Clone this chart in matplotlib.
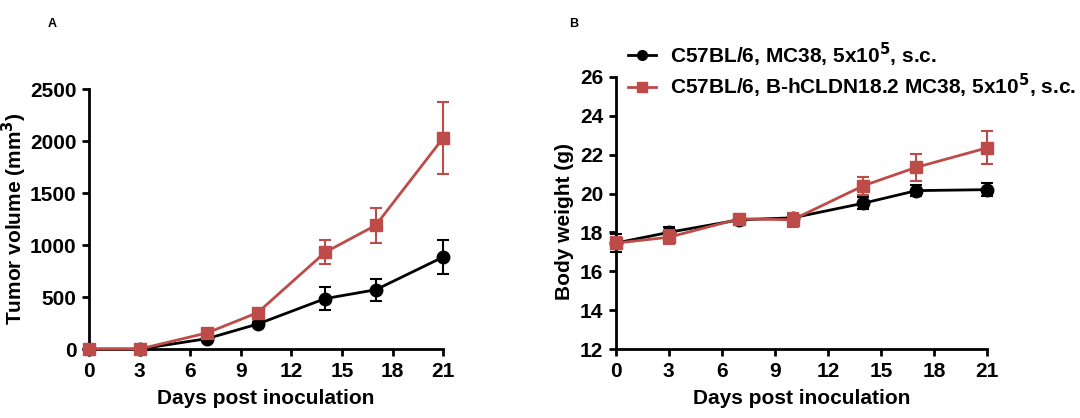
import matplotlib
matplotlib.use("Agg")
import matplotlib.pyplot as plt
from matplotlib.lines import Line2D

plt.rcParams['font.family'] = ['Liberation Sans', 'DejaVu Sans']
plt.rcParams['font.weight'] = 'bold'
plt.rcParams['mathtext.default'] = 'bf'

days = [0, 3, 7, 10, 14, 17, 21]

vol_mc38 = [0, 0, 100, 240, 485, 570, 885]
vol_mc38_err = [0, 0, 15, 20, 110, 105, 165]
vol_cldn = [0, 0, 155, 350, 930, 1190, 2030]
vol_cldn_err = [0, 0, 20, 25, 115, 170, 350]

bw_mc38 = [17.45, 18.0, 18.65, 18.75, 19.5, 20.15, 20.2]
bw_mc38_err = [0.45, 0.3, 0.25, 0.2, 0.3, 0.3, 0.35]
bw_cldn = [17.45, 17.75, 18.7, 18.65, 20.4, 21.35, 22.35]
bw_cldn_err = [0.3, 0.35, 0.25, 0.35, 0.45, 0.7, 0.85]

labels = ['C57BL/6, MC38, 5x10$^{5}$, s.c.',
          'C57BL/6, B-hCLDN18.2 MC38, 5x10$^{5}$, s.c.']
black = '#000000'
red = '#bd4b48'
FS = 15

fig = plt.figure(figsize=(10.8, 4.18), dpi=100)
axA = fig.add_axes([0.0824, 0.165, 0.328, 0.622])
axB = fig.add_axes([0.570, 0.165, 0.344, 0.651])

def style(ax):
    for s in ['top', 'right']:
        ax.spines[s].set_visible(False)
    for s in ['left', 'bottom']:
        ax.spines[s].set_linewidth(2)
    ax.tick_params(width=2, length=5, labelsize=FS, direction='out', pad=4)
    for lab in ax.get_xticklabels() + ax.get_yticklabels():
        lab.set_fontweight('bold')
    ax.set_xlim(0, 21)
    ax.set_xticks([0, 3, 6, 9, 12, 15, 18, 21])
    ax.set_xlabel('Days post inoculation', fontsize=FS, fontweight='bold', labelpad=6)

for ax, y1, e1, y2, e2 in [(axA, vol_mc38, vol_mc38_err, vol_cldn, vol_cldn_err),
                            (axB, bw_mc38, bw_mc38_err, bw_cldn, bw_cldn_err)]:
    ax.errorbar(days, y1, yerr=e1, color=black, marker='o', markersize=9, lw=2,
                capsize=4, elinewidth=1.5, capthick=1.5, clip_on=False, zorder=3)
    ax.errorbar(days, y2, yerr=e2, color=red, marker='s', markersize=9, lw=2,
                capsize=4, elinewidth=1.5, capthick=1.5, clip_on=False, zorder=4)

axA.set_ylim(0, 2500)
axA.set_yticks([0, 500, 1000, 1500, 2000, 2500])
axA.set_ylabel('Tumor volume (mm$^{3}$)', fontsize=FS, fontweight='bold')
axA.yaxis.set_label_coords(-0.17, 0.5)
style(axA)

axB.set_ylim(12, 26)
axB.set_yticks([12, 14, 16, 18, 20, 22, 24, 26])
axB.set_ylabel('Body weight (g)', fontsize=FS, fontweight='bold')
axB.yaxis.set_label_coords(-0.113, 0.47)
style(axB)

handles = [Line2D([], [], color=black, marker='o', markersize=7, lw=2),
           Line2D([], [], color=red, marker='s', markersize=7, lw=2)]
axB.legend(handles, labels, loc='lower left', bbox_to_anchor=(0.01, 0.885), frameon=False,
           prop={'weight': 'bold', 'size': FS}, handlelength=1.35,
           labelspacing=0.15, handletextpad=0.7, borderaxespad=0)

fig.text(0.044, 0.935, 'A', fontsize=9, fontweight='bold')
fig.text(0.527, 0.935, 'B', fontsize=9, fontweight='bold')

fig.savefig('out.png', dpi=100)
